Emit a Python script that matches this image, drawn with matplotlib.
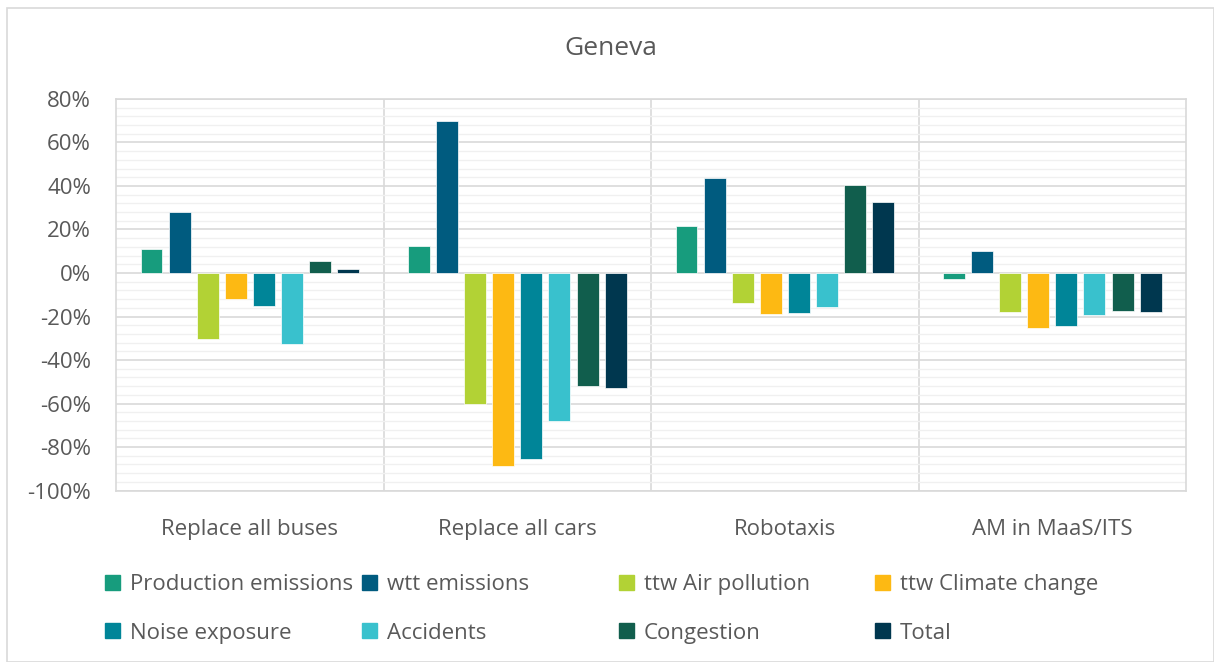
import matplotlib
matplotlib.use("Agg")
import matplotlib.pyplot as plt
from matplotlib.patches import Patch, Rectangle
import numpy as np

plt.rcParams['font.family'] = ['Open Sans', 'DejaVu Sans']

# data (percent)
scenarios = ["Replace all buses", "Replace all cars", "Robotaxis", "AM in MaaS/ITS"]
series = ["Production emissions", "wtt emissions", "ttw Air pollution", "ttw Climate change",
          "Noise exposure", "Accidents", "Congestion", "Total"]
colors = ["#179C7D", "#005B7F", "#B2D235", "#FDB913",
          "#008598", "#39C1CD", "#115E4D", "#00374F"]

production = [11, 12.3, 21.5, -2.8]
wtt = [28.2, 69.8, 43.9, 10.1]
air = [-30.5, -60, -13.8, -17.8]
climate = [-12.1, -88.6, -18.7, -25.4]
noise = [-15.2, -85.5, -18.2, -24.5]
accidents = [-32.8, -68, -15.6, -19.3]
congestion = [5.4, -51.8, 40.5, -17.5]
total = [2, -52.7, 32.5, -17.8]
values = [production, wtt, air, climate, noise, accidents, congestion, total]

text_col = "#595959"
fs = 16

fig = plt.figure(figsize=(12.14, 6.62), dpi=100)
ax = fig.add_axes([0.0956, 0.259, 0.8814, 0.5915])

x = np.arange(len(scenarios))
step = 0.105
width = 0.082
for k, (name, vals) in enumerate(zip(series, values)):
    ax.bar(x + (k - 3.5) * step, vals, width, color=colors[k], label=name,
           edgecolor="white", linewidth=0.5, zorder=3)

ax.set_xlim(-0.5, 3.5)
ax.set_ylim(-100, 80)
ax.set_yticks(np.arange(-100, 81, 20))
ax.set_yticklabels([f"{v}%" for v in range(-100, 81, 20)])
ax.set_yticks(np.arange(-100, 81, 4), minor=True)
ax.grid(axis="y", which="major", color="#D9D9D9", linewidth=1.2, zorder=1)
ax.grid(axis="y", which="minor", color="#F0F0F0", linewidth=1.0, zorder=0)
for b in [0.5, 1.5, 2.5]:
    ax.axvline(b, color="#D9D9D9", linewidth=1.2, zorder=1)

ax.set_xticks(x)
ax.set_xticklabels(scenarios)
ax.tick_params(axis="both", which="both", length=0, labelsize=fs, colors=text_col)
ax.tick_params(axis="x", pad=20.5)
ax.tick_params(axis="y", pad=18)
for s in ax.spines.values():
    s.set_color("#D9D9D9")
    s.set_linewidth(1.2)

fig.text(0.503, 0.927, "Geneva", ha="center", va="center", fontsize=19, color=text_col)

# legend: four evenly spaced columns, two rows
col_x = [0.0865, 0.2985, 0.5095, 0.7205]
for c in range(4):
    handles = [Patch(color=colors[c]), Patch(color=colors[c + 4])]
    labels = [series[c], series[c + 4]]
    fig.legend(handles, labels, loc="upper left", bbox_to_anchor=(col_x[c], 0.133),
               bbox_transform=fig.transFigure, frameon=False, fontsize=fs,
               labelcolor=text_col, handlelength=0.68, handleheight=0.68,
               handletextpad=0.45, labelspacing=1.24, borderaxespad=0, borderpad=0)

fig.patches.append(Rectangle((0.006, 0.0), 0.994, 0.988, transform=fig.transFigure,
                             fill=False, edgecolor="#D9D9D9", linewidth=1.2))

fig.savefig("out.png", dpi=100)
